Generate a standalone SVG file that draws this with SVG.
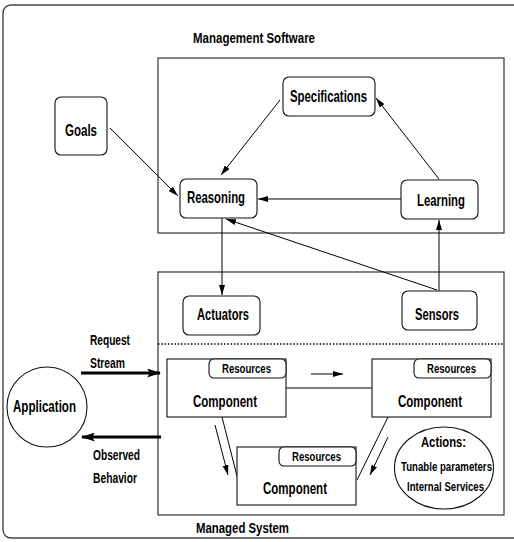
<svg xmlns="http://www.w3.org/2000/svg" width="514" height="542" viewBox="0 0 514 542">
<defs>
<marker id="ah" markerUnits="userSpaceOnUse" markerWidth="10" markerHeight="6" refX="10" refY="3" orient="auto">
<path d="M0,0 L10,3 L0,6 z" fill="#000"/>
</marker>
<marker id="ahb" markerUnits="userSpaceOnUse" markerWidth="14" markerHeight="9" refX="13" refY="4.5" orient="auto">
<path d="M0,0 L14,4.5 L0,9 L3,4.5 z" fill="#000"/>
</marker>
</defs>
<style>
text{font-family:"Liberation Sans",Arial,sans-serif;font-weight:bold;fill:#000}
.node{fill:#fff;stroke:#111;stroke-width:1.1}
.frame{fill:none;stroke:#333;stroke-width:1.2}
.c{fill:none;stroke:#000;stroke-width:1}
.a{fill:none;stroke:#000;stroke-width:1;marker-end:url(#ah)}
.t{fill:none;stroke:#000;stroke-width:3;marker-end:url(#ahb)}
</style>
<rect x="3" y="5" width="530" height="533" rx="8" fill="#fff" stroke="#444" stroke-width="1.4"/>
<rect class="frame" x="158" y="58" width="346" height="175"/>
<rect class="frame" x="158" y="272" width="346" height="243"/>
<line x1="158" y1="344" x2="504" y2="344" stroke="#000" stroke-width="1.5" stroke-dasharray="1.5,1.8"/>
<text x="193" y="43" font-size="15.5" textLength="122" lengthAdjust="spacingAndGlyphs">Management Software</text>
<text x="196" y="533" font-size="15.5" textLength="93" lengthAdjust="spacingAndGlyphs">Managed System</text>
<g id="connectors">
<path class="a" d="M280,100 L221,175"/>
<path class="a" d="M110,128 L178,196"/>
<path class="a" d="M439,179 L376,98"/>
<path class="a" d="M401,199 L258,199"/>
<path class="a" d="M437,290 L226,219"/>
<path class="a" d="M222,218 L222,295"/>
<path class="a" d="M439,291 L439,220"/>
<path class="c" d="M286,388 L372,388"/>
<path class="a" d="M311,374 L343,374" stroke-width="1.6"/>
<path class="c" d="M222,417 L238,480"/>
<path class="a" d="M215,425 L228,475" stroke-width="1.4"/>
<path class="c" d="M388,417 L357,480"/>
<path class="a" d="M388,437 L370,475" stroke-width="1.4"/>
<path class="t" d="M81,373 L160,373"/>
<path class="t" d="M161,437 L82,437"/>
</g>
<g id="specifications">
<rect class="node" x="283" y="77" width="92" height="39" rx="6"/>
<text x="290" y="102" font-size="16.5" textLength="77" lengthAdjust="spacingAndGlyphs">Specifications</text>
</g>
<g id="goals">
<rect class="node" x="55" y="97" width="52" height="58" rx="6"/>
<text x="65" y="136" font-size="16.5" textLength="32" lengthAdjust="spacingAndGlyphs">Goals</text>
</g>
<g id="reasoning">
<rect class="node" x="180" y="179" width="77" height="39" rx="6"/>
<text x="187" y="203" font-size="16.5" textLength="58" lengthAdjust="spacingAndGlyphs">Reasoning</text>
</g>
<g id="learning">
<rect class="node" x="401" y="180" width="77" height="39" rx="6"/>
<text x="417" y="206" font-size="16.5" textLength="48" lengthAdjust="spacingAndGlyphs">Learning</text>
</g>
<g id="actuators">
<rect class="node" x="183" y="296" width="77" height="39" rx="6"/>
<text x="197" y="320" font-size="16.5" textLength="52" lengthAdjust="spacingAndGlyphs">Actuators</text>
</g>
<g id="sensors">
<rect class="node" x="402" y="291" width="75" height="39" rx="6"/>
<text x="415" y="320" font-size="16.5" textLength="44" lengthAdjust="spacingAndGlyphs">Sensors</text>
</g>
<g id="component1">
<rect class="node" x="167" y="359" width="119" height="58"/>
<rect class="node" x="209" y="359" width="77" height="19" rx="5"/>
<text x="222" y="373" font-size="12.5" textLength="49" lengthAdjust="spacingAndGlyphs">Resources</text>
<text x="193" y="407" font-size="16.5" textLength="64" lengthAdjust="spacingAndGlyphs">Component</text>
</g>
<g id="component2">
<rect class="node" x="372" y="359" width="119" height="58"/>
<rect class="node" x="414" y="359" width="77" height="19" rx="5"/>
<text x="427" y="373" font-size="12.5" textLength="49" lengthAdjust="spacingAndGlyphs">Resources</text>
<text x="398" y="407" font-size="16.5" textLength="64" lengthAdjust="spacingAndGlyphs">Component</text>
</g>
<g id="component3">
<rect class="node" x="237" y="447" width="119" height="58"/>
<rect class="node" x="279" y="447" width="77" height="19" rx="5"/>
<text x="292" y="461" font-size="12.5" textLength="49" lengthAdjust="spacingAndGlyphs">Resources</text>
<text x="263" y="494" font-size="16.5" textLength="64" lengthAdjust="spacingAndGlyphs">Component</text>
</g>
<g id="application">
<circle class="node" cx="47" cy="407" r="40"/>
<text x="13" y="412" font-size="16.5" textLength="63" lengthAdjust="spacingAndGlyphs">Application</text>
</g>
<g id="request-label">
<text x="90" y="345" font-size="14" textLength="40" lengthAdjust="spacingAndGlyphs">Request</text>
<text x="90" y="368" font-size="14" textLength="35" lengthAdjust="spacingAndGlyphs">Stream</text>
</g>
<g id="observed-label">
<text x="93" y="460" font-size="14" textLength="47" lengthAdjust="spacingAndGlyphs">Observed</text>
<text x="93" y="483" font-size="14" textLength="44" lengthAdjust="spacingAndGlyphs">Behavior</text>
</g>
<g id="actions">
<ellipse class="node" cx="444" cy="468" rx="49.5" ry="41"/>
<text x="421" y="447" font-size="15" textLength="45" lengthAdjust="spacingAndGlyphs">Actions:</text>
<text x="401" y="471" font-size="12" textLength="91" lengthAdjust="spacingAndGlyphs">Tunable parameters</text>
<text x="407" y="491" font-size="12" textLength="77" lengthAdjust="spacingAndGlyphs">Internal Services</text>
</g>
</svg>
